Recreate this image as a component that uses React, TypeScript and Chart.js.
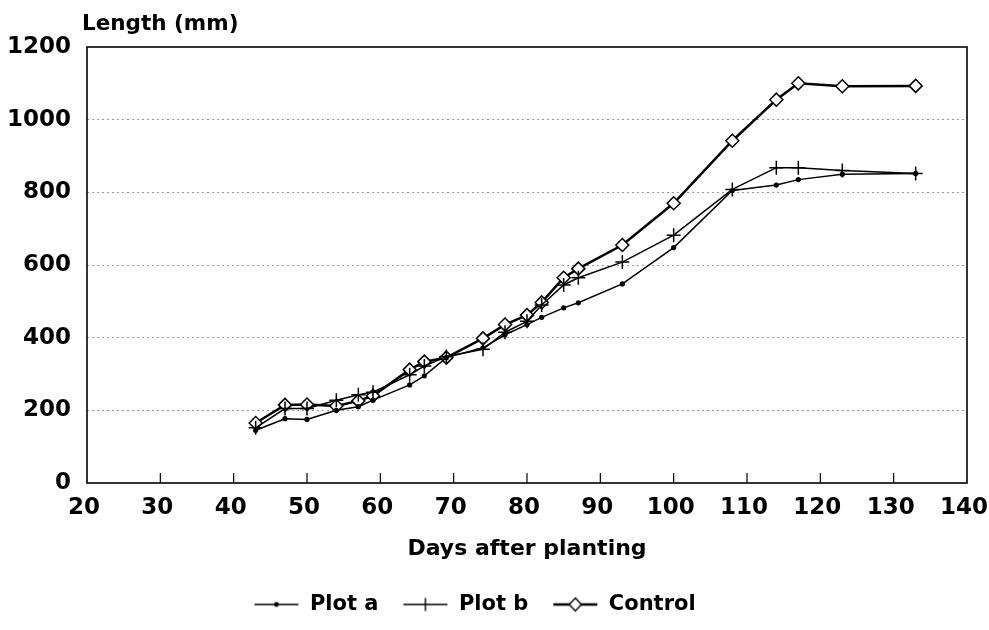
import React, { useEffect, useRef } from "react";
import { Chart, registerables } from "chart.js";

Chart.register(...registerables);

// ---- data ----
const days = [43, 47, 50, 54, 57, 59, 64, 66, 69, 74, 77, 80, 82, 85, 87, 93, 100, 108, 114, 117, 123, 133];
const plotA = [145, 177, 175, 200, 210, 228, 270, 295, 345, 372, 408, 436, 456, 482, 496, 548, 648, 805, 820, 835, 850, 852];
const plotB = [152, 205, 205, 228, 243, 250, 298, 322, 348, 368, 415, 445, 490, 545, 565, 608, 682, 808, 868, 868, 860, 852];
const control = [165, 215, 216, 212, 226, 240, 312, 334, 345, 398, 436, 462, 497, 565, 590, 655, 770, 942, 1055, 1100, 1092, 1093];
const seriesNames = ["Plot a", "Plot b", "Control"];
const yTitle = "Length (mm)";
const xTitle = "Days after planting";
const xMin = 20;
const xMax = 140;
const xStep = 10;
const yMin = 0;
const yMax = 1200;
const yStep = 200;

const FONT = "'DejaVu Sans', 'Liberation Sans', Arial, sans-serif";

function legendIcon(kind: number): HTMLCanvasElement {
  const c = document.createElement("canvas");
  c.width = 46;
  c.height = 18;
  const ctx = c.getContext("2d")!;
  ctx.strokeStyle = "#000";
  ctx.fillStyle = "#000";
  ctx.lineWidth = kind === 2 ? 2.5 : 1.3;
  ctx.beginPath();
  ctx.moveTo(1, 9);
  ctx.lineTo(45, 9);
  ctx.stroke();
  if (kind === 0) {
    ctx.beginPath();
    ctx.arc(23, 9, 2.4, 0, Math.PI * 2);
    ctx.fill();
  } else if (kind === 1) {
    ctx.lineWidth = 1.4;
    ctx.beginPath();
    ctx.moveTo(23, 2.5);
    ctx.lineTo(23, 15.5);
    ctx.stroke();
  } else {
    ctx.lineWidth = 1.4;
    ctx.beginPath();
    ctx.moveTo(23, 2.5);
    ctx.lineTo(29, 9);
    ctx.lineTo(23, 15.5);
    ctx.lineTo(17, 9);
    ctx.closePath();
    ctx.fillStyle = "#fff";
    ctx.fill();
    ctx.stroke();
  }
  return c;
}

const framePlugin = {
  id: "framePlugin",
  afterLayout(chart: any) {
    // shift the legend block slightly left, as in the reference
    if (chart.legend) chart.legend.left -= 26;
  },
  beforeDatasetsDraw(chart: any) {
    const { ctx, chartArea: a, scales } = chart;
    const x = scales.x;
    ctx.save();
    ctx.strokeStyle = "#000";
    ctx.lineWidth = 1.6;
    ctx.strokeRect(a.left, a.top, a.right - a.left, a.bottom - a.top);
    ctx.lineWidth = 1.2;
    x.ticks.forEach((t: any) => {
      if (t.value > x.min && t.value < x.max) {
        const px = x.getPixelForValue(t.value);
        ctx.beginPath();
        ctx.moveTo(px, a.bottom);
        ctx.lineTo(px, a.bottom - 10);
        ctx.stroke();
      }
    });
    ctx.restore();
  },
  afterDraw(chart: any) {
    const { ctx, chartArea: a } = chart;
    ctx.save();
    ctx.fillStyle = "#000";
    ctx.font = `bold 21.5px ${FONT}`;
    ctx.textAlign = "left";
    ctx.textBaseline = "middle";
    ctx.fillText(yTitle, a.left - 5, a.top - 23);
    ctx.restore();
  },
};

export default function App() {
  const ref = useRef<HTMLCanvasElement | null>(null);

  useEffect(() => {
    if (!ref.current) return;
    const icons = [legendIcon(0), legendIcon(1), legendIcon(2)];
    const chart = new Chart(ref.current, {
      type: "line",
      data: {
        datasets: [
          {
            label: seriesNames[0],
            data: days.map((d, i) => ({ x: d, y: plotA[i] })),
            borderColor: "#000",
            backgroundColor: "#000",
            borderWidth: 1.5,
            pointStyle: "circle",
            pointRadius: 2.6,
            pointBorderWidth: 0,
            pointBackgroundColor: "#000",
            tension: 0,
          },
          {
            label: seriesNames[1],
            data: days.map((d, i) => ({ x: d, y: plotB[i] })),
            borderColor: "#000",
            backgroundColor: "#000",
            borderWidth: 1.5,
            pointStyle: "cross",
            pointRadius: 7,
            pointBorderWidth: 1.5,
            tension: 0,
          },
          {
            label: seriesNames[2],
            data: days.map((d, i) => ({ x: d, y: control[i] })),
            borderColor: "#000",
            backgroundColor: "#fff",
            borderWidth: 2.5,
            pointStyle: "rectRot",
            pointRadius: 6.5,
            pointBorderWidth: 1.5,
            pointBackgroundColor: "#fff",
            tension: 0,
          },
        ],
      },
      options: {
        animation: false,
        responsive: false,
        maintainAspectRatio: false,
        layout: { padding: { left: 8, right: 22, top: 47, bottom: 5 } },
        scales: {
          x: {
            type: "linear",
            min: xMin,
            max: xMax,
            ticks: {
              stepSize: xStep,
              color: "#000",
              padding: 11,
              labelOffset: -3,
              maxRotation: 0,
              callback: (v: any) => String(v),
              font: { family: FONT, size: 23, weight: "bold" },
            },
            grid: { display: false, drawTicks: false },
            border: { display: false },
            title: {
              display: true,
              text: xTitle,
              color: "#000",
              padding: { top: 4, bottom: 8 },
              font: { family: FONT, size: 22, weight: "bold" },
            },
            afterFit(scale: any) {
              scale.height = 87;
              scale.paddingLeft = 0;
              scale.paddingRight = 0;
            },
          },
          y: {
            type: "linear",
            min: yMin,
            max: yMax,
            ticks: {
              stepSize: yStep,
              color: "#000",
              padding: 16,
              callback: (v: any) => String(v),
              font: { family: FONT, size: 23, weight: "bold" },
            },
            grid: {
              drawTicks: false,
              lineWidth: 1,
              color: (c: any) =>
                c.tick && (c.tick.value === yMin || c.tick.value === yMax) ? "rgba(0,0,0,0)" : "#999999",
            },
            border: { display: false, dash: [2, 3] },
            afterFit(scale: any) {
              scale.width = 79;
            },
          },
        },
        plugins: {
          legend: {
            display: true,
            position: "bottom",
            labels: {
              usePointStyle: true,
              pointStyleWidth: 46,
              boxHeight: 18,
              padding: 24,
              color: "#000",
              font: { family: FONT, size: 21, weight: "bold" },
              generateLabels: (ch: any) =>
                ch.data.datasets.map((ds: any, i: number) => ({
                  text: ds.label,
                  pointStyle: icons[i],
                  fillStyle: "#000",
                  strokeStyle: "#000",
                  fontColor: "#000",
                  lineWidth: 1,
                  hidden: false,
                  datasetIndex: i,
                })),
            },
          },
          tooltip: { enabled: false },
        },
      },
      plugins: [framePlugin],
    } as any);
    return () => chart.destroy();
  }, []);

  return (
    <div style={{ position: "absolute", left: 0, top: 0, width: 989, height: 630, background: "#fff" }}>
      <canvas ref={ref} width={989} height={630} style={{ width: 989, height: 630 }} />
    </div>
  );
}
